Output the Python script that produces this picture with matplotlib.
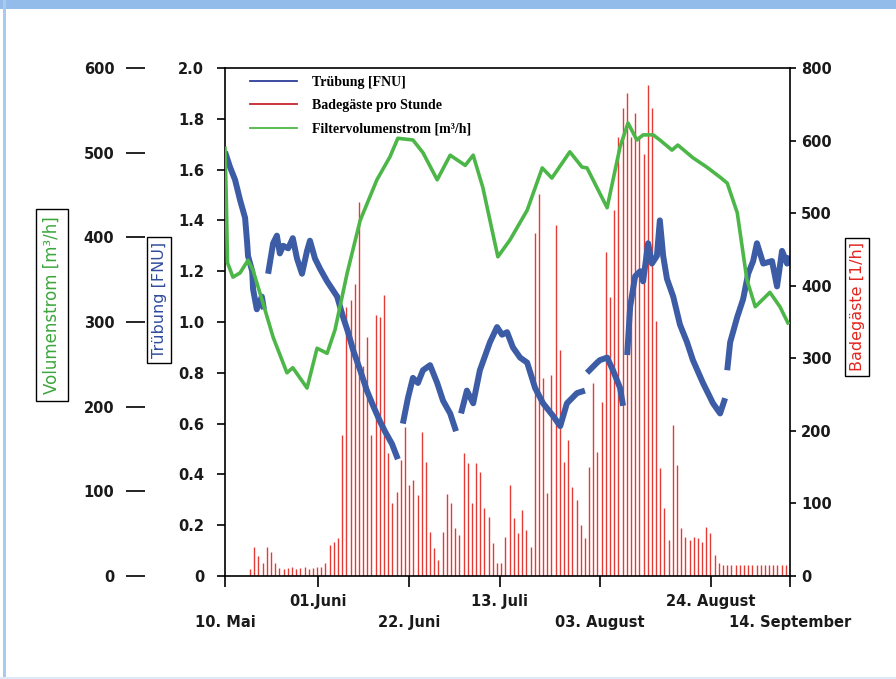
import numpy as np
import matplotlib
matplotlib.use("Agg")
import matplotlib.pyplot as plt
from matplotlib.lines import Line2D
from matplotlib.patches import Rectangle

# x axis in days (approx. 10 May .. 14 September), labels in two rows
upper_days = [22.2, 65.7, 116.1]
upper_labels = ["01.Juni", "13. Juli", "24. August"]
lower_days = [0, 44.0, 89.6, 135]
lower_labels = ["10. Mai", "22. Juni", "03. August", "14. September"]

# Badegaeste pro Stunde - daily peak, one spike per day
guests = [0, 0, 0, 0, 0, 0, 10, 40, 27, 18, 40, 33, 18,
          11, 10, 11, 12, 10, 11, 12, 10, 11, 12, 13,
          18, 43, 47, 52, 194, 371, 380, 403, 515, 290, 330, 194, 359, 357, 387,
          169, 100, 116, 160, 205, 125, 132, 111, 198, 157, 61, 39, 22, 61,
          113, 100, 66, 56, 169, 156, 100, 156, 143, 94, 81, 45, 18, 18,
          54, 125, 80, 59, 91, 63, 40, 472, 527, 273, 114, 277, 483, 311,
          157, 187, 123, 105, 70, 52, 150, 266, 171, 240, 446, 384, 504,
          605, 645, 665, 605, 638, 605, 582, 676, 645, 352, 149, 94, 50,
          208, 153, 66, 54, 50, 54, 52, 47, 67, 59, 29, 18,
          15, 15, 15, 15, 15, 15, 15, 15, 15, 15, 15, 15, 15, 15, 15, 15]
guest_ticks = [0, 100, 200, 300, 400, 500, 600, 700]
guest_tick_labels = ["0", "100", "200", "300", "400", "500", "600", "800"]

# Filtervolumenstrom [m3/h]
flow_days = [0.0, 0.3, 0.6, 1.9, 3.6, 5.5, 6.7, 9.1, 11.5, 14.8, 16.2, 19.6,
             22.0, 24.4, 26.3, 29.2, 32.3, 36.3, 39.4, 41.3, 44.9, 47.3, 50.7,
             53.8, 57.4, 59.3, 61.6, 65.2, 68.1, 72.2, 75.8, 78.1, 82.4, 85.3,
             86.5, 91.3, 94.4, 96.3, 98.4, 99.9, 102.3, 103.9, 106.8, 108.2,
             111.8, 115.1, 118.3, 120.0, 122.4, 124.7, 126.7, 130.2, 132.6, 134.5]
flow = [505, 448, 370, 353, 358, 373, 361, 322, 282, 240, 246, 222,
        269, 263, 291, 358, 420, 468, 495, 517, 515, 500, 468,
        497, 485, 497, 459, 377, 397, 432, 482, 470, 501, 483,
        482, 435, 507, 535, 515, 521, 521, 515, 503, 509,
        494, 483, 471, 464, 429, 350, 318, 335, 318, 299]

# Truebung [FNU] (nan = gap in record)
turb_days = [0.0, 1.2, 2.4, 3.6, 4.8, 5.3, 5.5, 6.5, 6.7, 7.6, 8.8, 9.3, 9.8,
             10.3, 10.8, 11.5, 12.4, 13.1, 13.9, 15.1, 16.2, 17.2, 18.4, 19.6,
             20.3, 21.5, 22.7, 24.4, 25.6, 26.8, 27.5, 28.2, 29.4, 30.6, 32.3,
             33.9, 35.4, 37.0, 38.2, 39.9, 41.3, 41.9,
             42.5, 43.7, 44.9, 46.1, 47.3, 49.0, 50.7, 52.1, 53.8, 55.2, 55.8,
             56.4, 57.8, 59.3, 60.9, 63.3, 65.0, 66.2, 67.4, 68.8, 70.5, 72.2,
             74.1, 76.0, 78.4, 80.1, 81.7, 84.1, 86.0, 86.2,
             86.5, 88.9, 89.6, 91.3, 92.7, 94.4, 95.1, 95.6,
             96.1, 96.8, 98.0, 99.2, 99.9, 101.1, 102.0, 103.2, 103.9, 104.7,
             105.6, 107.1, 108.7, 110.4, 111.8, 114.2, 116.6, 118.3, 119.5, 119.7,
             120.0, 120.7, 122.4, 123.8, 125.0, 126.2, 127.1, 128.6, 130.7,
             131.9, 133.1, 134.3, 135.0]
turb = [1.67, 1.61, 1.56, 1.48, 1.41, 1.31, 1.26, 1.20, 1.13, 1.05, 1.10, 1.05, np.nan,
        1.19, 1.24, 1.31, 1.34, 1.27, 1.30, 1.29, 1.33, 1.25, 1.19, 1.28,
        1.32, 1.25, 1.21, 1.16, 1.13, 1.10, 1.06, 1.02, 0.96, 0.89, 0.81,
        0.73, 0.67, 0.61, 0.57, 0.52, 0.46, np.nan,
        0.60, 0.70, 0.78, 0.76, 0.81, 0.83, 0.76, 0.69, 0.64, 0.57, np.nan,
        0.64, 0.73, 0.68, 0.81, 0.92, 0.98, 0.95, 0.96, 0.90, 0.86, 0.84,
        0.74, 0.68, 0.63, 0.59, 0.68, 0.72, 0.73, np.nan,
        0.80, 0.84, 0.85, 0.86, 0.81, 0.74, 0.67, np.nan,
        0.87, 1.06, 1.18, 1.20, 1.16, 1.31, 1.23, 1.26, 1.40, 1.26,
        1.17, 1.10, 0.99, 0.92, 0.85, 0.76, 0.68, 0.64, 0.70, np.nan,
        0.81, 0.92, 1.02, 1.09, 1.19, 1.24, 1.31, 1.23, 1.24,
        1.14, 1.28, 1.23, 1.26]

BLUE = "#3d5ca6"
RED = "#e3261f"
GREEN = "#4cb748"

fig = plt.figure(figsize=(8.96, 6.79), dpi=100)
fig.patch.set_facecolor("white")

# light blue frame of the page
fig.add_artist(Rectangle((0, 1 - 9 / 679), 1, 9 / 679, transform=fig.transFigure,
                         color="#94bceb", lw=0))
fig.add_artist(Rectangle((3 / 896, 0), 3 / 896, 1, transform=fig.transFigure,
                         color="#a9c9ef", lw=0))
fig.add_artist(Rectangle((0, 0), 1, 2 / 679, transform=fig.transFigure,
                         color="#dce9f8", lw=0))

ax = fig.add_axes([225 / 896, 1 - 576 / 679, 565 / 896, 508 / 679])
ax_r = ax.twinx()
ax_v = ax.twinx()
ax_r.set_zorder(1)
ax.set_zorder(2)
ax_v.set_zorder(3)
for a in (ax, ax_r, ax_v):
    a.patch.set_visible(False)

# red spikes: visitors per hour
days = np.arange(len(guests))
ax_r.vlines(days, 0, guests, color=RED, lw=1.0, alpha=0.9)
ax_r.set_ylim(0, 700)
ax_r.set_yticks(guest_ticks)
ax_r.set_yticklabels(guest_tick_labels)
for s in ax_r.spines.values():
    s.set_visible(False)
ax_r.tick_params(axis="y", direction="out", length=4, width=1.2, pad=4,
                 labelsize=10.5)

# blue turbidity
ax.plot(turb_days, turb, color=BLUE, lw=4.3, solid_capstyle="butt")
ax.set_ylim(0, 2.0)
ax.set_xlim(0, 135)
yt = np.round(np.arange(0, 2.01, 0.2), 1)
ax.set_yticks(yt)
ax.set_yticklabels(["0" if v == 0 else f"{v:.1f}" for v in yt])
ax.set_xticks(upper_days)
ax.set_xticklabels(upper_labels)
ax.set_xticks(lower_days, minor=True)
ax.set_xticklabels(lower_labels, minor=True)
for s in ax.spines.values():
    s.set_linewidth(1.2)
ax.tick_params(axis="y", direction="out", length=6, width=1.2, pad=9,
               labelsize=10.5)
ax.tick_params(axis="x", which="major", direction="out", length=8, width=1.2,
               pad=5, labelsize=10.5)
ax.tick_params(axis="x", which="minor", direction="out", length=8, width=1.2,
               pad=20, labelsize=10.5)

# green filter flow, on the far left axis
ax_v.plot(flow_days, flow, color=GREEN, lw=2.6)
ax_v.set_ylim(0, 600)
ax_v.set_xlim(0, 135)
ax_v.set_yticks(range(0, 601, 100))
ax_v.yaxis.set_ticks_position("left")
ax_v.yaxis.set_label_position("left")
ax_v.spines["left"].set_position(("axes", -80 / 565))
for s in ax_v.spines.values():
    s.set_visible(False)
ax_v.tick_params(axis="y", direction="out", length=14, width=1.2, pad=8,
                 labelsize=10.5)

for a in (ax, ax_r, ax_v):
    labs = (a.get_xticklabels() + a.get_xticklabels(minor=True)
            + a.get_yticklabels())
    for lab in labs:
        lab.set_fontweight("bold")
        lab.set_color("#1a1a1a")

# legend
handles = [Line2D([], [], color="#2c3f9a", lw=1.3),
           Line2D([], [], color="#c8242c", lw=1.3),
           Line2D([], [], color=GREEN, lw=1.3)]
names = ["Trübung [FNU]", "Badegäste pro Stunde", "Filtervolumenstrom [m³/h]"]
ax_v.legend(handles, names, loc="upper left",
            bbox_to_anchor=(240 / 896, 1 - 66 / 679),
            bbox_transform=fig.transFigure, frameon=False,
            prop={"family": "Liberation Serif", "weight": "bold", "size": 10},
            handlelength=3.4, handletextpad=1.1, labelspacing=0.75, borderpad=0.2)

# boxed axis titles
box = dict(boxstyle="square,pad=0.4", fc="white", ec="black", lw=1)
fig.text(52 / 896, 1 - 305 / 679, "Volumenstrom [m³/h]", rotation=90,
         color="#3aa63a", fontsize=12, ha="center", va="center", bbox=box)
box2 = dict(boxstyle="square,pad=0.3", fc="white", ec="black", lw=1)
fig.text(159 / 896, 1 - 300 / 679, "Trübung [FNU]", rotation=90,
         color="#2f4d9d", fontsize=11.5, ha="center", va="center", bbox=box2)
fig.text(857 / 896, 1 - 307 / 679, "Badegäste [1/h]", rotation=90,
         color=RED, fontsize=11.5, ha="center", va="center", bbox=box2)

fig.savefig("out.png", dpi=100)
